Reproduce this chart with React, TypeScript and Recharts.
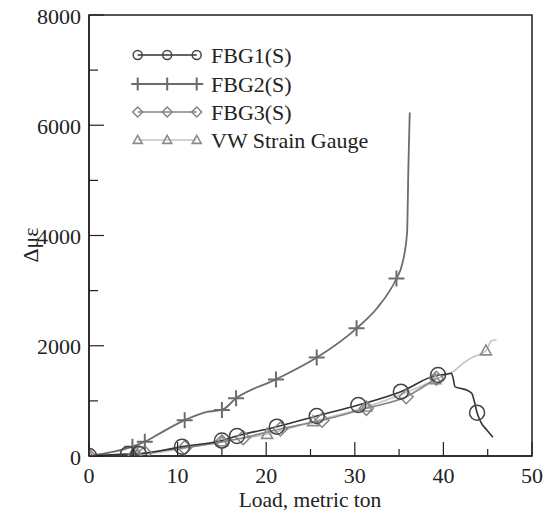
import { Legend, Line, LineChart, ReferenceArea, XAxis, YAxis } from "recharts";

// Load (metric ton) vs. strain change
const fbg1Load = [0, 4.4, 5.6, 10.5, 15.0, 16.7, 21.2, 25.7, 30.4, 35.2, 39.4, 40.2, 40.9, 41.1, 41.3, 41.9, 42.6, 43.2, 43.5, 43.8, 44.3, 44.9, 45.6];
const fbg1Strain = [0, 36, 40, 170, 280, 363, 532, 726, 925, 1167, 1470, 1480, 1500, 1410, 1260, 1228, 1198, 1137, 985, 786, 593, 472, 339];
const fbg1Marks = [0, 1, 2, 3, 4, 5, 6, 7, 8, 9, 10, 19];

const fbg2Load = [0, 4.9, 6.3, 8.0, 10.8, 13.3, 15.0, 16.6, 21.1, 25.7, 30.2, 32.5, 34.7, 35.3, 35.9, 36.05, 36.2];
const fbg2Strain = [0, 170, 260, 411, 650, 800, 835, 1047, 1390, 1785, 2316, 2680, 3220, 3450, 4050, 5250, 6230];
const fbg2Marks = [0, 1, 2, 4, 6, 7, 8, 9, 10, 12];

const fbg3Load = [0, 5.2, 6.3, 10.8, 15.0, 17.4, 21.6, 26.3, 31.3, 35.8, 39.2];
const fbg3Strain = [0, 20, 55, 150, 255, 330, 490, 650, 865, 1076, 1410];
const fbg3Marks = [0, 1, 2, 3, 4, 5, 6, 7, 8, 9, 10];

const vwLoad = [0, 5.5, 15.0, 20.1, 25.3, 31.3, 39.1, 40.2, 41.1, 42.2, 43.4, 44.8, 45.4, 46.0];
const vwStrain = [0, 25, 260, 395, 625, 890, 1385, 1470, 1530, 1680, 1800, 1910, 2085, 2110];
const vwMarks = [0, 1, 2, 3, 4, 5, 6, 11];

const xTicks = [0, 5, 10, 15, 20, 25, 30, 35, 40, 45, 50];
const yTicks = [0, 1000, 2000, 3000, 4000, 5000, 6000, 7000, 8000];

const FONT = "'Liberation Serif', 'Times New Roman', serif";
const INK = "#222";

type Row = { load: number; strain: number; marked: boolean };
type Kind = "circle" | "plus" | "diamond" | "triangle";

const toRows = (load: number[], strain: number[], marks: number[]): Row[] =>
  load.map((l, i) => ({ load: l, strain: strain[i], marked: marks.includes(i) }));

const series = [
  { name: "FBG1(S)", data: toRows(fbg1Load, fbg1Strain, fbg1Marks), line: "#333", mark: "#444", kind: "circle" as Kind, width: 1.6 },
  { name: "FBG2(S)", data: toRows(fbg2Load, fbg2Strain, fbg2Marks), line: "#6c6c6c", mark: "#6c6c6c", kind: "plus" as Kind, width: 1.8 },
  { name: "FBG3(S)", data: toRows(fbg3Load, fbg3Strain, fbg3Marks), line: "#858585", mark: "#858585", kind: "diamond" as Kind, width: 1.6 },
  { name: "VW Strain Gauge", data: toRows(vwLoad, vwStrain, vwMarks), line: "#c4c4c4", mark: "#8c8c8c", kind: "triangle" as Kind, width: 1.6 },
];

function Marker({ kind, x, y, s, color }: { kind: Kind; x: number; y: number; s: number; color: string }) {
  if (kind === "circle") return <circle cx={x} cy={y} r={s} fill="none" stroke={color} strokeWidth={1.5} />;
  if (kind === "plus")
    return <path d={`M${x - s},${y}H${x + s}M${x},${y - s}V${y + s}`} fill="none" stroke={color} strokeWidth={2} />;
  if (kind === "diamond")
    return <path d={`M${x},${y - s}L${x + s},${y}L${x},${y + s}L${x - s},${y}Z`} fill="none" stroke={color} strokeWidth={1.5} />;
  return (
    <path
      d={`M${x},${y - s * 1.05}L${x + s},${y + s * 0.75}L${x - s},${y + s * 0.75}Z`}
      fill="none"
      stroke={color}
      strokeWidth={1.6}
    />
  );
}

const markSize: Record<Kind, number> = { circle: 7.5, plus: 8, diamond: 7, triangle: 5.5 };
const legendSize: Record<Kind, number> = { circle: 4.5, plus: 6.5, diamond: 5, triangle: 4.5 };

function XTick({ x, y, payload }: any) {
  const major = payload.value % 10 === 0;
  return (
    <g>
      <line x1={x} x2={x} y1={y} y2={y - (major ? 14 : 7)} stroke={INK} strokeWidth={1.2} />
      {major && (
        <text x={x} y={y + 27} textAnchor="middle" fontFamily={FONT} fontSize={22} fill={INK}>
          {payload.value}
        </text>
      )}
    </g>
  );
}

function YTick({ x, y, payload }: any) {
  const major = payload.value % 2000 === 0;
  return (
    <g>
      <line x1={x} x2={x + (major ? 15 : 9)} y1={y} y2={y} stroke={INK} strokeWidth={1.2} />
      {major && (
        <text x={x - 8} y={y + 8.5} textAnchor="end" fontFamily={FONT} fontSize={22} fill={INK}>
          {payload.value}
        </text>
      )}
    </g>
  );
}

function LegendBox() {
  const rowY = [15, 44, 72, 100];
  const xs = [17.7, 47.2, 76.7];
  return (
    <svg width={270} height={120}>
      {series.map((s, i) => (
        <g key={s.name}>
          <line x1={xs[0]} x2={xs[2]} y1={rowY[i]} y2={rowY[i]} stroke={s.line} strokeWidth={s.width} />
          {xs.map((x) => (
            <Marker key={x} kind={s.kind} x={x} y={rowY[i]} s={legendSize[s.kind]} color={s.mark} />
          ))}
          <text x={91} y={rowY[i] + 7.5} fontFamily={FONT} fontSize={22} fill={INK}>
            {s.name}
          </text>
        </g>
      ))}
    </svg>
  );
}

export default function App() {
  return (
    <div style={{ position: "absolute", left: 0, top: 0, background: "#fff" }}>
      <LineChart width={546} height={512} margin={{ top: 15, right: 14, bottom: 0, left: 0 }}>
        <ReferenceArea x1={0} x2={50} y1={0} y2={8000} fill="none" stroke={INK} strokeWidth={1.5} ifOverflow="visible" />
        <XAxis
          dataKey="load"
          type="number"
          domain={[0, 50]}
          ticks={xTicks}
          interval={0}
          height={56}
          tickSize={0}
          tickMargin={0}
          tickLine={false}
          tick={(p: any) => <XTick {...p} />}
          axisLine={{ stroke: INK, strokeWidth: 1.5 }}
          allowDataOverflow
          label={{
            content: () => (
              <text x={310} y={507} textAnchor="middle" fontFamily={FONT} fontSize={21.5} fill={INK}>
                Load, metric ton
              </text>
            ),
          }}
        />
        <YAxis
          dataKey="strain"
          type="number"
          domain={[0, 8000]}
          ticks={yTicks}
          interval={0}
          width={89}
          tickSize={0}
          tickMargin={0}
          tickLine={false}
          tick={(p: any) => <YTick {...p} />}
          axisLine={{ stroke: INK, strokeWidth: 1.5 }}
          allowDataOverflow
          label={{
            content: () => (
              <text
                x={38}
                y={245}
                textAnchor="middle"
                transform="rotate(-90 38 245)"
                fontFamily={FONT}
                fontSize={22}
                fill={INK}
              >
                Δμε
              </text>
            ),
          }}
        />
        {[...series].reverse().map((s) => (
          <Line
            key={s.name}
            data={s.data}
            dataKey="strain"
            name={s.name}
            type="monotone"
            stroke={s.line}
            strokeWidth={s.width}
            activeDot={false}
            isAnimationActive={false}
            dot={(p: any) =>
              p.payload.marked ? (
                <Marker key={p.index} kind={s.kind} x={p.cx} y={p.cy} s={markSize[s.kind]} color={s.mark} />
              ) : (
                <g key={p.index} />
              )
            }
          />
        ))}
        <Legend
          layout="vertical"
          align="center"
          verticalAlign="middle"
          wrapperStyle={{ left: 120, top: 40, width: 270, height: 120 }}
          content={() => <LegendBox />}
        />
      </LineChart>
    </div>
  );
}
